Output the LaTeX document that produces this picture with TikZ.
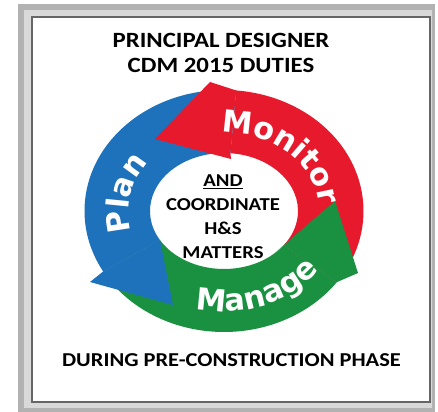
\documentclass[tikz,border=0pt]{standalone}
\usepackage{fontspec}
\usetikzlibrary{calc,decorations.text}
\setmainfont{Carlito}[FakeStretch=1.14]
\newfontfamily\ringfont{DejaVu Sans}
\definecolor{planblue}{RGB}{30,114,188}
\definecolor{monred}{RGB}{230,25,45}
\definecolor{mangreen}{RGB}{25,145,65}
\newcommand\ringtxt{\ringfont\bfseries\fontsize{26}{26}\selectfont}

\begin{document}
\begin{tikzpicture}[x=0.03cm, y=0.03cm,
    headtext/.style={font=\bfseries\fontsize{18.6}{21.3}\selectfont, align=center},
    middletext/.style={font=\bfseries\fontsize{15.5}{20.4}\selectfont, align=center},
    ringlabel/.style={decorate, decoration={text along path, text align=center, text color=white}}]
    \useasboundingbox (0,0) rectangle (438,412);
    % frame
    \fill[black!30] (18,0) rectangle (435,408);
    \fill[black!15] (24,4) rectangle (432,402);
    \draw[black!60, line width=1.8pt, fill=white] (32,10) rectangle (430,395);

    \coordinate (C) at (224,201);
    % arrow bodies
    \foreach \col/\ta/\tb in {monred/-36/85, mangreen/210/324, planblue/85/210}
        \fill[\col] ($(C)+(\ta:139.5 and 121)$) arc[start angle=\ta, end angle=\tb, x radius=139.5, y radius=121]
            -- ($(C)+(\tb:74 and 58)$) arc[start angle=\tb, end angle=\ta, x radius=74, y radius=58] -- cycle;
    % arrow heads
    \fill[monred] ($(C)+(85:139.5 and 121)$) -- (210,330) -- (155,273) -- (231,253) -- ($(C)+(85:74 and 58)$) -- cycle;
    \fill[mangreen] ($(C)+(324:139.5 and 121)$) -- (358,139) -- (335,211) -- (270,155) -- ($(C)+(324:74 and 58)$) -- cycle;
    \fill[planblue] ($(C)+(210:139.5 and 121)$) -- (90,130) -- (173,107) -- ($(C)+(210:74 and 58)$) -- cycle;

    % ring labels
    \path[ringlabel, decoration={text={|\ringtxt|Monitor}}] ($(C)+(97:95.5 and 78.5)$) arc[start angle=97, end angle=-2, x radius=95.5, y radius=78.5];
    \path[ringlabel, decoration={text={|\ringtxt|Plan}}] ($(C)+(207:95.5 and 78.5)$) arc[start angle=207, end angle=131, x radius=95.5, y radius=78.5];
    \path[ringlabel, decoration={text={|\ringtxt|Manage}}] ($(C)+(238:118 and 100.5)$) arc[start angle=238, end angle=344, x radius=118, y radius=100.5];

    \node[headtext] (title) at (221,359) {PRINCIPAL DESIGNER\\CDM 2015 DUTIES};
    \node[middletext] (duties) at (223,195) {\underline{AND}\\COORDINATE\\H\&S\\MATTERS};
    \node[font=\bfseries\fontsize{16.8}{20}\selectfont] (phase) at (231.5,51.5) {DURING PRE-CONSTRUCTION PHASE};
\end{tikzpicture}
\end{document}
